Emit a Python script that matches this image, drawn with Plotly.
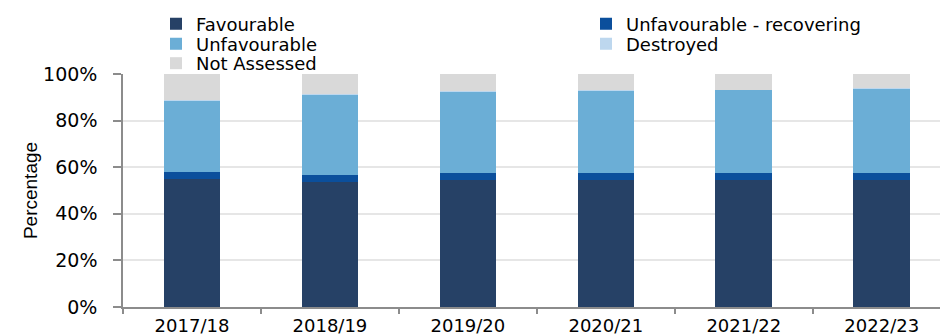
import plotly.graph_objects as go

categories = ["2017/18", "2018/19", "2019/20", "2020/21", "2021/22", "2022/23"]
favourable = [54.9, 53.6, 54.7, 54.7, 54.6, 54.7]
recovering = [2.9, 2.9, 2.9, 2.9, 2.9, 2.9]
unfavourable = [31.0, 34.9, 34.8, 35.4, 35.7, 36.1]
destroyed = [0.1, 0.1, 0.1, 0.1, 0.1, 0.1]
not_assessed = [round(100 - a - b - c - d, 1) for a, b, c, d in zip(favourable, recovering, unfavourable, destroyed)]

y_ticks = [0, 20, 40, 60, 80, 100]
y_tick_labels = ["0%", "20%", "40%", "60%", "80%", "100%"]

series = [
    ("Favourable", favourable, "#264166", "legend"),
    ("Unfavourable - recovering", recovering, "#0B4F9C", "legend2"),
    ("Unfavourable", unfavourable, "#6BAED6", "legend3"),
    ("Destroyed", destroyed, "#BDD7EE", "legend4"),
    ("Not Assessed", not_assessed, "#D9D9D9", "legend5"),
]

fig = go.Figure()
for name, vals, color, lg in series:
    fig.add_trace(go.Bar(
        x=categories, y=vals, name=name, marker=dict(color=color, line=dict(width=0)),
        width=0.41, legend=lg,
    ))

W, H = 940, 335
ml, mr, mt, mb = 123, 0, 74, 28
pw = W - ml - mr
ph = H - mt - mb

def px_x(x):
    return (x - ml) / pw

def px_y(y):
    return (H - mb - y) / ph

legend_font = dict(family="DejaVu Sans", size=18, color="#000000")

def leg(xpx, ypx):
    return dict(x=px_x(xpx), y=px_y(ypx), xanchor="left", yanchor="middle",
                orientation="v", bgcolor="rgba(0,0,0,0)", font=legend_font,
                borderwidth=0, itemclick=False, itemdoubleclick=False)

text_x1 = 196 - 40
text_x2 = 626 - 40

fig.update_layout(
    width=W, height=H,
    margin=dict(l=ml, r=mr, t=mt, b=mb, autoexpand=False),
    paper_bgcolor="white", plot_bgcolor="white",
    barmode="stack",
    showlegend=True,
    legend=leg(text_x1, 24),
    legend2=leg(text_x2, 24),
    legend3=leg(text_x1, 44),
    legend4=leg(text_x2, 44),
    legend5=leg(text_x1, 63.5),
    font=dict(family="DejaVu Sans", size=19, color="#000000"),
)

fig.update_xaxes(
    type="category",
    range=[-0.5, 5.4225],
    showline=True, linecolor="#8c8c8c", linewidth=1.5,
    ticks="outside", tickson="boundaries", ticklen=5, tickcolor="#8c8c8c", tickwidth=1.5,
    showgrid=False, zeroline=False,
    ticklabelstandoff=2,
    tickfont=dict(family="DejaVu Sans", size=18, color="#000000"),
)

fig.update_yaxes(
    range=[0, 100],
    tickvals=y_ticks, ticktext=y_tick_labels,
    showline=True, linecolor="#8c8c8c", linewidth=1.5,
    ticks="outside", ticklen=8, tickcolor="#8c8c8c", tickwidth=1.5,
    showgrid=True, gridcolor="#e6e6e6", gridwidth=1.5,
    zeroline=False,
    ticklabelstandoff=12,
    tickfont=dict(family="DejaVu Sans", size=19, color="#000000"),
    title=dict(text="Percentage", font=dict(family="Liberation Sans", size=19, color="#000000"), standoff=0),
)

fig.write_html("out.html")
